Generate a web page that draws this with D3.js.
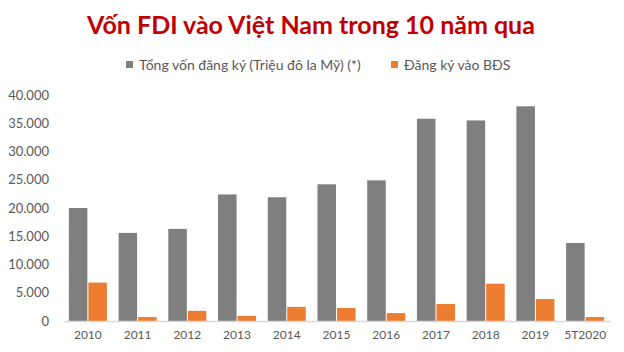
<!DOCTYPE html>
<html>
<head>
<meta charset="utf-8">
<script src="https://cdn.jsdelivr.net/npm/d3@7"></script>
<style>
  body { margin: 0; background: #fff; }
  svg { display: block; font-family: Lato, "Open Sans", sans-serif; }
</style>
</head>
<body>
<svg id="drawing_region"></svg>
<script>
const categories = ["2010", "2011", "2012", "2013", "2014", "2015", "2016", "2017", "2018", "2019", "5T2020"];
const total_values = [20000, 15600, 16300, 22400, 21900, 24200, 24900, 35800, 35500, 38000, 13800];
const bds_values = [6800, 700, 1800, 900, 2500, 2300, 1400, 3000, 6600, 3900, 700];
const series_names = ["Tổng vốn đăng ký (Triệu đô la Mỹ) (*)", "Đăng ký vào BĐS"];
const series_colors = ["#7f7f7f", "#ed7d31"];
const y_ticks = [0, 5000, 10000, 15000, 20000, 25000, 30000, 35000, 40000];

const width = 624, height = 352;
const margin = {top: 95, right: 14, bottom: 31, left: 63};
const inner_width = width - margin.left - margin.right;
const inner_height = height - margin.top - margin.bottom;

const svg = d3.select('#drawing_region')
    .attr('width', width)
    .attr('height', height);

// title
svg.append('text')
    .attr('x', 311)
    .attr('y', 34)
    .attr('text-anchor', 'middle')
    .attr('fill', '#c00000')
    .attr('font-size', '25px')
    .attr('font-weight', 'bold')
    .text('Vốn FDI vào Việt Nam trong 10 năm qua');

// legend
const legend_x = [126, 391];
series_names.forEach((name, i) => {
    const g = svg.append('g').attr('transform', `translate(${legend_x[i]}, 61)`);
    g.append('rect')
        .attr('width', 7).attr('height', 7)
        .attr('fill', series_colors[i]);
    g.append('text')
        .attr('x', 13).attr('y', 9)
        .attr('fill', '#595959')
        .attr('font-size', '14px')
        .text(name);
});

const chart = svg.append('g')
    .attr('transform', `translate(${margin.left}, ${margin.top})`);

const xscale = d3.scaleBand()
    .domain(categories)
    .range([0, inner_width])
    .paddingInner(0.235)
    .paddingOuter(0.1175);

const subscale = d3.scaleBand()
    .domain([0, 1])
    .range([0, xscale.bandwidth()])
    .paddingInner(0.05);

const yscale = d3.scaleLinear()
    .domain([0, 40000])
    .range([inner_height, 0]);

const fmt = d => d3.format(',')(d).replace(/,/g, '.');

const yaxis = d3.axisLeft(yscale)
    .tickValues(y_ticks)
    .tickFormat(fmt)
    .tickSize(0)
    .tickPadding(14);

const yaxis_group = chart.append('g').call(yaxis);
yaxis_group.select('.domain').remove();
yaxis_group.selectAll('text')
    .attr('fill', '#595959')
    .attr('font-size', '13px')
    .attr('font-family', 'Lato, sans-serif');

const data = categories.map((c, i) => ({label: c, values: [total_values[i], bds_values[i]]}));

chart.selectAll('.group').data(data).enter()
    .append('g')
    .attr('transform', d => `translate(${xscale(d.label)}, 0)`)
    .selectAll('rect')
    .data(d => d.values.map((v, k) => ({k: k, v: v})))
    .enter()
    .append('rect')
    .attr('x', d => subscale(d.k))
    .attr('y', d => yscale(d.v))
    .attr('width', subscale.bandwidth())
    .attr('height', d => inner_height - yscale(d.v))
    .attr('fill', d => series_colors[d.k]);

const xaxis = d3.axisBottom(xscale)
    .tickSize(0)
    .tickPadding(9)
    .tickSizeOuter(0);

const xaxis_group = chart.append('g')
    .attr('transform', `translate(0, ${inner_height})`)
    .call(xaxis);
xaxis_group.select('.domain').attr('stroke', '#d9d9d9').attr('stroke-width', 1.5);
xaxis_group.selectAll('text')
    .attr('fill', '#595959')
    .attr('font-size', '12px')
    .attr('font-family', 'Lato, sans-serif');
</script>
</body>
</html>
